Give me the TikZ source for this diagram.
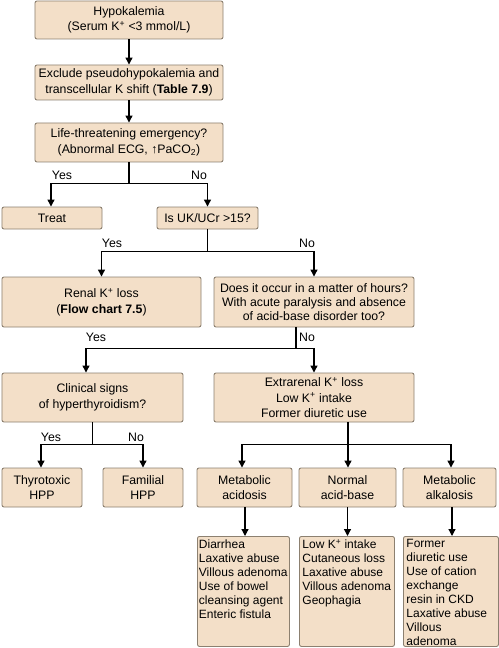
\documentclass[tikz,border=0pt]{standalone}
\usepackage{fontspec}
\setmainfont{Liberation Sans}
\usetikzlibrary{arrows.meta}
\definecolor{boxfill}{HTML}{F3DFC8}
\definecolor{boxline}{HTML}{8C8070}
\tikzset{
  box/.style={draw=boxline, fill=boxfill, line width=0.9bp, rounded corners=2bp,
    align=center, inner sep=0pt, font=\fontsize{12.3bp}{15.5bp}\selectfont},
  listbox/.style={draw=boxline, fill=boxfill, line width=0.9bp, rounded corners=2bp,
    inner xsep=3bp, inner ysep=3bp, font=\fontsize{12bp}{14bp}\selectfont},
  arr/.style={line width=1.2bp, -{Triangle[length=7bp,width=7bp]}},
  ln/.style={line width=1.2bp},
  lbl/.style={font=\fontsize{12.3bp}{14bp}\selectfont, inner sep=0pt},
}
\begin{document}
\begin{tikzpicture}[x=1bp,y=-1bp]
\useasboundingbox (0,0) rectangle (499,648);
% main column
\node[box, minimum width=188bp, minimum height=38bp] (b1) at (129,20)
  {Hypokalemia\\(Serum K\textsuperscript{+} <3 mmol/L)};
\node[box, minimum width=188bp, minimum height=35bp] (b2) at (129,82.5)
  {Exclude pseudohypokalemia and\\transcellular K shift (\textbf{Table 7.9})};
\node[box, minimum width=188bp, minimum height=39bp] (b3) at (129,142.5)
  {Life-threatening emergency?\\(Abnormal ECG, ↑PaCO\textsubscript{2})};
\node[box, minimum width=100bp, minimum height=22bp] (treat) at (52,218) {Treat};
\node[box, minimum width=101bp, minimum height=22bp] (isuk) at (207.5,218) {Is UK/UCr >15?};
\node[box, minimum width=199bp, minimum height=50bp] (renal) at (101.5,302)
  {Renal K\textsuperscript{+} loss\\(\textbf{Flow chart 7.5})};
\node[box, minimum width=200bp, minimum height=50bp, font=\fontsize{12.3bp}{14bp}\selectfont] (does) at (314,302)
  {Does it occur in a matter of hours?\\With acute paralysis and absence\\of acid-base disorder too?};
\node[box, minimum width=181bp, minimum height=49bp] (clin) at (92.5,397.5)
  {Clinical signs\\of hyperthyroidism?};
\node[box, minimum width=200bp, minimum height=49bp] (extra) at (314,397.5)
  {Extrarenal K\textsuperscript{+} loss\\Low K\textsuperscript{+} intake\\Former diuretic use};
\node[box, minimum width=80bp, minimum height=39bp] (thyro) at (42,487.5) {Thyrotoxic\\HPP};
\node[box, minimum width=80bp, minimum height=39bp] (fam) at (143,487.5) {Familial\\HPP};
\node[box, minimum width=95bp, minimum height=39bp] (macid) at (244.5,487.5) {Metabolic\\acidosis};
\node[box, minimum width=97bp, minimum height=39bp] (norm) at (347.5,487.5) {Normal\\acid-base};
\node[box, minimum width=93bp, minimum height=39bp] (malk) at (449.5,487.5) {Metabolic\\alkalosis};
% lists
\node[listbox, anchor=north west, inner xsep=1.5bp] (l1) at (197,536)
  {\parbox[c][104bp][t]{89bp}{\raggedright Diarrhea\\Laxative abuse\\Villous adenoma\\Use of bowel\\cleansing agent\\Enteric fistula}};
\node[listbox, anchor=north west] (l2) at (299,536)
  {\parbox[c][104bp][t]{89bp}{\raggedright Low K\textsuperscript{+} intake\\Cutaneous loss\\Laxative abuse\\Villous adenoma\\Geophagia}};
\node[listbox, anchor=north west] (l3) at (403,536)
  {\parbox[c][104bp][t]{89bp}{\raggedright Former\\diuretic use\\Use of cation\\exchange\\resin in CKD\\Laxative abuse\\Villous\\adenoma}};
% connectors
\draw[arr] (b1) -- (b2);
\draw[arr] (b2) -- (b3);
\draw[ln] (b3.south) -- ++(0,21) coordinate (j1);
\draw[arr] (j1) -| ([xshift=-1bp]treat.north);
\draw[arr] (j1) -| (isuk.north);
\draw[ln] (isuk.south) -- ++(0,22) coordinate (j2);
\draw[arr] (j2) -| (renal.north);
\draw[arr] (j2) -| (does.north);
\draw[ln] ([xshift=-18bp]does.south) -- ++(0,21) coordinate (j3);
\draw[arr] (j3) -| ([xshift=-6.5bp]clin.north);
\draw[arr] (j3) -| (extra.north);
\draw[ln] (clin.south) -- ++(0,22) coordinate (j4);
\draw[arr] (j4) -| ([xshift=-1bp]thyro.north);
\draw[arr] (j4) -| (fam.north);
\draw[ln] ([xshift=34bp]extra.south) -- ++(0,22) coordinate (j5);
\draw[arr] (j5) -| ([xshift=-2.5bp]macid.north);
\draw[arr] (j5) -| ([xshift=0.5bp]norm.north);
\draw[arr] (j5) -| ([xshift=1.5bp]malk.north);
\draw[arr] ([xshift=0.5bp]macid.south) -- ([xshift=0.5bp]macid.south |- l1.north);
\draw[arr] (norm.south) -- (norm.south |- l2.north);
\draw[arr] ([xshift=2.5bp]malk.south) -- ([xshift=2.5bp]malk.south |- l3.north);
% labels
\node[lbl] (y1) at (62,175) {Yes};
\node[lbl] (n1) at (199,175) {No};
\node[lbl] (y2) at (112,243) {Yes};
\node[lbl] (n2) at (307,243) {No};
\node[lbl] (y3) at (96,337) {Yes};
\node[lbl] (n3) at (307,337) {No};
\node[lbl] (y4) at (51,437) {Yes};
\node[lbl] (n4) at (136,437) {No};
\end{tikzpicture}
\end{document}
